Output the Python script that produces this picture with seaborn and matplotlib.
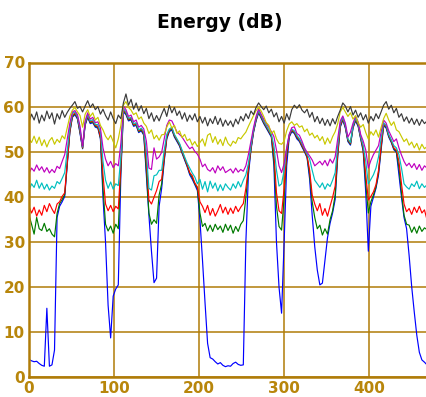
import numpy as np
import pandas as pd
import seaborn as sns
import matplotlib
matplotlib.use("Agg")
import matplotlib.pyplot as plt

# sample positions (frames), every 3 units from 0 to 468
frames = list(range(0, 469, 3))

black = [
    56.8, 58.5, 57.2, 59.0, 56.5, 58.3, 57.0, 59.2, 57.5, 58.8,
    56.3, 58.6, 57.4, 59.3, 57.8, 58.9, 59.8, 60.5, 61.3, 59.8,
    60.2, 59.0, 60.3, 61.5, 60.0, 60.8, 59.5, 60.2, 58.5, 59.6,
    58.2, 57.2, 59.0, 57.5, 56.4, 58.3, 57.5, 61.0, 63.0, 60.5,
    61.8, 59.6, 61.0, 59.2, 60.4, 58.6, 59.8, 57.5, 58.8, 56.9,
    58.2, 57.0, 58.5, 59.8, 58.0, 60.5, 58.8, 60.0, 58.2, 59.2,
    57.4, 58.8, 56.9, 58.3, 57.2, 58.6, 56.8, 58.0, 56.5, 57.8,
    55.9, 57.5, 56.4, 58.0, 56.2, 57.6, 55.8, 57.2, 56.0, 57.0,
    55.7, 57.4, 56.3, 58.0, 57.0, 58.6, 57.5, 59.2, 58.4, 60.0,
    61.0, 60.2, 59.5, 60.3, 58.8, 59.6, 57.9, 58.8, 56.8, 58.0,
    56.5, 58.6, 57.2, 59.5, 60.5, 59.8, 60.6, 59.4, 58.8, 59.6,
    57.8, 58.9, 56.8, 58.0, 56.4, 57.6, 56.0, 57.3, 55.9, 57.5,
    56.3, 58.0, 59.4, 61.0, 60.3, 59.0, 60.2, 58.3, 59.4, 57.8,
    58.8, 57.2, 58.4, 56.5, 58.0, 57.0, 58.6, 57.5, 59.0, 60.5,
    61.3, 59.6, 60.5, 58.8, 59.8, 57.8, 58.6, 56.9, 57.9, 56.5,
    57.6, 56.2, 57.4, 56.0, 57.3, 56.4, 57.0,
]

yellow = [
    53.0, 52.2, 53.6, 52.0, 53.4, 51.5, 52.8, 51.2, 52.6, 53.3,
    51.8, 52.9, 52.2, 53.7, 53.0, 55.5, 58.0, 59.4, 60.0, 59.0,
    58.2, 55.6, 58.5, 59.5, 58.0, 58.8, 57.2, 57.8, 56.0, 55.0,
    53.6, 52.8, 53.8, 52.4, 51.0, 53.0, 56.0, 60.5, 61.3, 60.0,
    59.4, 58.4, 58.8, 57.4, 57.9, 56.5, 55.8, 54.2, 55.0, 53.0,
    53.8, 52.7, 53.9, 54.0, 55.6, 56.8, 55.4, 56.0, 54.2, 54.8,
    53.3, 54.0, 52.6, 53.0, 51.6, 52.4, 51.3, 52.2, 53.0, 51.4,
    53.8, 54.2, 52.2, 53.5, 51.8, 52.9, 51.5, 53.4, 52.0, 51.4,
    52.5, 52.0, 53.3, 53.0, 53.8, 54.5, 55.8, 57.0, 58.2, 59.3,
    60.0, 59.2, 58.0, 56.6, 56.0, 54.2, 54.8, 53.0, 52.0, 51.8,
    52.5, 54.8, 56.3, 56.8, 56.0, 56.4, 55.6, 55.9, 54.6, 55.2,
    53.8, 54.3, 53.2, 53.8, 52.6, 53.5, 51.8, 53.2, 52.0, 53.5,
    54.6, 56.4, 59.0, 60.0, 59.0, 58.0, 58.8, 57.4, 58.2, 56.6,
    55.6, 56.2, 54.4, 53.0, 54.6, 53.8, 55.0, 53.4, 55.5, 57.5,
    58.7, 57.2, 56.0, 56.8, 55.0, 54.6, 53.5, 52.4, 53.0, 51.6,
    52.3, 51.0, 52.0, 50.5, 51.8, 50.8, 51.3,
]

magenta = [
    45.3, 46.5, 45.8, 47.2, 46.0, 46.8, 45.6, 46.6, 45.4, 46.2,
    45.5, 46.9, 46.4, 48.0, 49.5, 53.0, 56.5, 59.0, 59.3, 58.4,
    55.8, 51.4, 57.0, 58.8, 57.4, 57.8, 56.6, 56.8, 55.4, 51.0,
    48.5, 47.0, 48.0, 46.6, 47.5, 47.0, 52.0, 60.3, 59.5, 58.0,
    58.3, 56.8, 57.2, 55.6, 56.0, 55.2, 52.5, 46.5, 46.2, 51.0,
    48.5, 49.0, 50.0, 53.0, 56.0, 57.2, 57.0, 55.8, 54.5, 54.0,
    53.4, 52.5, 51.6, 50.8, 51.2, 50.2, 49.6, 48.5, 46.8, 47.4,
    46.2, 45.8, 46.6, 45.4, 47.0, 46.0, 46.8, 45.5, 45.9, 46.3,
    45.4, 46.5, 45.6, 46.2, 45.8, 47.0, 49.5, 52.5, 55.5, 58.0,
    59.7, 58.5, 57.4, 56.5, 55.6, 54.6, 53.5, 50.5, 47.0, 45.5,
    47.5, 51.0, 54.0, 55.5, 55.7, 54.2, 53.8, 52.5, 51.0, 50.0,
    49.2, 48.3, 47.0, 47.5, 48.0, 47.2, 48.2, 47.0, 48.5, 47.6,
    49.0, 53.0, 57.0, 58.1, 56.5, 53.4, 54.5, 56.5, 58.0, 56.8,
    54.0, 52.5, 50.5, 46.5, 48.2, 49.5, 50.5, 51.5, 54.5, 57.2,
    56.5, 54.8, 53.6, 52.4, 53.0, 51.0, 49.4, 48.0, 47.0, 47.6,
    46.6, 47.5, 46.2, 47.3, 46.0, 47.0, 46.5,
]

cyan = [
    41.5, 43.0, 42.2, 43.8, 42.0, 43.2, 41.8, 42.9, 41.6, 42.5,
    42.0, 43.5, 43.0, 44.2, 45.5, 50.5, 55.5, 58.7, 59.0, 58.0,
    55.2, 51.2, 56.6, 58.4, 57.0, 57.3, 56.2, 56.2, 54.5, 48.0,
    43.8, 42.0, 43.4, 41.8, 43.0, 42.6, 49.0, 59.8, 59.0, 57.6,
    57.8, 56.4, 56.6, 55.0, 55.4, 54.6, 50.0, 42.0, 41.6, 44.8,
    45.0, 46.0, 46.0, 50.5, 54.0, 55.2, 55.6, 54.0, 53.0, 52.0,
    50.5, 49.0, 47.6, 46.5, 45.4, 44.5, 43.0, 44.0, 41.8, 43.5,
    41.2, 43.6, 42.0, 43.2, 41.4, 42.8, 41.5, 43.0, 42.2, 41.6,
    43.0, 42.0, 43.5, 42.3, 43.8, 45.0, 47.5, 51.5, 55.0, 57.6,
    59.3, 58.2, 57.0, 56.0, 55.0, 54.0, 51.5, 46.0, 42.5, 43.0,
    46.0, 51.0, 54.0, 55.2, 54.8, 53.8, 53.0, 52.0, 50.8, 49.6,
    48.5, 46.0, 43.8, 43.0, 42.2, 43.2, 41.8, 43.0, 42.4, 43.8,
    45.5, 51.5, 56.5, 57.8, 56.0, 53.0, 52.2, 56.0, 57.6, 56.4,
    53.6, 51.5, 48.0, 43.0, 44.0, 45.0, 46.5, 49.0, 53.0, 56.6,
    56.0, 54.0, 52.8, 51.5, 51.0, 49.5, 46.5, 43.0, 42.3, 41.8,
    43.0, 42.4, 43.6, 41.9, 43.0, 42.2, 42.8,
]

red = [
    38.0, 36.5, 37.8, 35.8, 37.2, 36.0, 38.2, 36.8, 38.6, 37.4,
    36.4, 38.5, 39.0, 40.2, 41.0, 48.0, 54.8, 58.2, 58.8, 57.8,
    54.8, 51.0, 56.4, 58.2, 56.8, 57.0, 56.0, 55.8, 53.5, 45.0,
    38.5, 37.0, 38.2, 36.8, 38.0, 37.4, 47.0, 59.5, 58.8, 57.4,
    57.6, 56.2, 56.4, 54.8, 55.2, 54.3, 48.0, 39.4, 38.5, 40.0,
    41.5, 43.5, 44.0, 49.0, 53.5, 55.0, 55.4, 53.8, 52.8, 51.8,
    50.2, 48.7, 47.2, 45.5, 44.8, 43.2, 42.3, 39.0, 38.0, 36.6,
    38.2, 36.0, 37.5, 35.8, 37.0, 38.4, 36.5, 37.8, 36.2, 37.6,
    36.4, 38.0, 36.8, 37.8, 38.6, 42.0, 46.5, 51.0, 54.8, 57.4,
    59.2, 58.0, 56.8, 55.8, 54.8, 53.8, 50.0, 41.0, 37.0, 36.4,
    42.0, 50.0, 53.8, 55.0, 54.6, 53.5, 52.8, 51.6, 50.5, 49.2,
    46.0, 40.5, 38.5, 37.0, 38.6, 36.0, 37.5, 35.8, 38.0, 40.0,
    42.5, 50.0, 56.0, 57.6, 55.8, 52.8, 52.0, 55.8, 57.4, 56.2,
    53.4, 51.0, 45.0, 39.4, 40.2, 41.2, 42.8, 46.0, 51.5, 56.3,
    55.8, 53.8, 52.6, 51.0, 50.5, 48.0, 43.0, 38.5, 36.8, 37.5,
    36.2, 37.8, 36.6, 38.0, 36.5, 37.2, 35.0,
]

green = [
    36.0, 34.0, 31.8, 35.5, 33.0, 32.6, 34.2, 32.4, 33.0, 31.8,
    31.2, 36.4, 38.6, 39.5, 40.6, 47.5, 54.6, 58.0, 58.6, 57.6,
    54.5, 50.9, 56.2, 58.0, 56.6, 56.8, 55.8, 55.6, 53.2, 42.0,
    34.0, 32.5, 33.6, 32.0, 34.0, 33.0, 46.0, 59.3, 58.6, 57.2,
    57.4, 56.0, 56.2, 54.6, 55.0, 54.0, 46.0, 36.5, 34.0, 35.0,
    34.2, 40.5, 43.0, 48.5, 53.3, 54.8, 55.2, 53.6, 52.6, 51.6,
    50.0, 48.5, 47.0, 45.3, 44.4, 43.0, 42.0, 36.5, 33.5, 34.2,
    32.5, 33.8, 32.4, 34.0, 32.8, 33.6, 32.2, 34.0, 32.6, 33.8,
    32.0, 33.5, 32.4, 34.0, 34.8, 40.0, 46.0, 50.8, 54.6, 57.2,
    59.0, 57.8, 56.6, 55.6, 54.6, 53.6, 48.0, 38.0, 33.5, 32.7,
    40.0, 49.0, 53.6, 54.8, 54.4, 53.3, 52.6, 51.4, 50.3, 49.0,
    45.0, 39.0, 35.5, 33.0, 33.8, 31.6, 33.0, 31.8, 35.0, 37.0,
    40.5, 49.5, 55.8, 57.4, 55.6, 52.6, 51.8, 55.6, 57.2, 56.0,
    53.2, 50.6, 43.0, 36.5, 39.0, 40.5, 42.3, 45.5, 51.0, 56.1,
    55.6, 53.6, 52.4, 50.8, 50.2, 46.5, 41.0, 36.0, 34.0, 33.8,
    32.2, 33.4, 32.0, 33.6, 32.4, 33.2, 32.8,
]

blue = [
    3.9, 3.6, 3.4, 3.5, 3.0, 2.6, 2.4, 15.3, 2.4, 2.7,
    6.0, 35.5, 38.0, 39.0, 40.2, 47.2, 54.4, 57.8, 58.4, 57.4,
    54.2, 50.8, 56.0, 57.8, 56.4, 56.6, 55.6, 55.4, 53.0, 40.0,
    30.0, 16.0, 8.7, 18.0, 19.6, 20.5, 45.0, 59.0, 58.4, 57.0,
    57.2, 55.8, 56.0, 54.4, 54.8, 53.8, 45.0, 36.0, 28.0, 21.0,
    22.0, 38.0, 42.0, 48.0, 53.0, 54.6, 55.0, 53.4, 52.4, 51.4,
    49.8, 48.3, 46.8, 45.0, 44.0, 42.8, 41.5, 35.0, 26.0, 16.5,
    7.5, 4.3, 4.0, 3.4, 2.9, 3.2, 2.6, 2.3, 2.5, 2.4,
    3.0, 3.3, 2.8, 2.6, 2.7, 30.0, 45.0, 50.5, 54.4, 57.0,
    58.8, 57.6, 56.4, 55.4, 54.4, 53.4, 47.0, 30.0, 20.0, 14.2,
    30.0, 47.0, 53.4, 54.6, 54.2, 53.0, 52.4, 51.2, 50.1, 48.8,
    44.0, 36.0, 29.0, 23.8, 20.5, 20.9, 26.0, 31.0, 34.2, 36.5,
    39.5, 49.0, 55.6, 57.2, 55.4, 52.4, 51.6, 55.4, 57.0, 55.8,
    53.0, 50.2, 41.0, 28.0, 38.0, 40.0, 42.0, 45.0, 50.5, 55.9,
    55.4, 53.4, 52.2, 50.6, 50.0, 45.0, 40.0, 35.5, 33.0, 27.0,
    20.1, 14.5, 9.3, 5.5, 3.8, 3.3, 2.7,
]

series_names = ["blue", "green", "red", "cyan", "magenta", "yellow", "black"]
series_values = [blue, green, red, cyan, magenta, yellow, black]
series_colors = ["#0000FF", "#007A00", "#FF0000", "#00BFBF", "#BF00BF", "#C8C800", "#3A3A3A"]

x_ticks = [0, 100, 200, 300, 400]
y_ticks = [0, 10, 20, 30, 40, 50, 60, 70]

frames_all, vals_all, names_all = [], [], []
for name, vals in zip(series_names, series_values):
    assert len(vals) == len(frames), (name, len(vals))
    frames_all += frames
    vals_all += vals
    names_all += [name] * len(frames)
df = pd.DataFrame({"frame": frames_all, "db": vals_all, "series": names_all})

sns.set_style("white")
gold = "#B07C08"
label_col = "#B8860B"

fig = plt.figure(figsize=(4.27, 3.97), dpi=100)
ax = fig.add_axes([29 / 427, 20 / 397, 398 / 427, 314.5 / 397])

sns.lineplot(data=df, x="frame", y="db", hue="series", hue_order=series_names,
             palette=dict(zip(series_names, series_colors)), linewidth=0.85,
             legend=False, errorbar=None, estimator=None, ax=ax)

ax.set_xlim(0, 468)
ax.set_ylim(0, 70)
ax.set_xticks(x_ticks)
ax.set_yticks(y_ticks)
ax.set_xlabel("")
ax.set_ylabel("")
ax.grid(True, color=gold, linewidth=1.1)
ax.set_axisbelow(True)
for s in ["left", "bottom", "top"]:
    ax.spines[s].set_color(gold)
    ax.spines[s].set_linewidth(1.8)
ax.spines["right"].set_visible(False)
ax.tick_params(length=0, labelsize=11, labelcolor=label_col, pad=3)
for lab in ax.get_xticklabels() + ax.get_yticklabels():
    lab.set_fontweight("bold")

fig.text(220 / 427, 1 - 22 / 397, "Energy (dB)", ha="center", va="center",
         fontsize=13.5, fontweight="bold", color="black")

fig.savefig("out.png", dpi=100)
